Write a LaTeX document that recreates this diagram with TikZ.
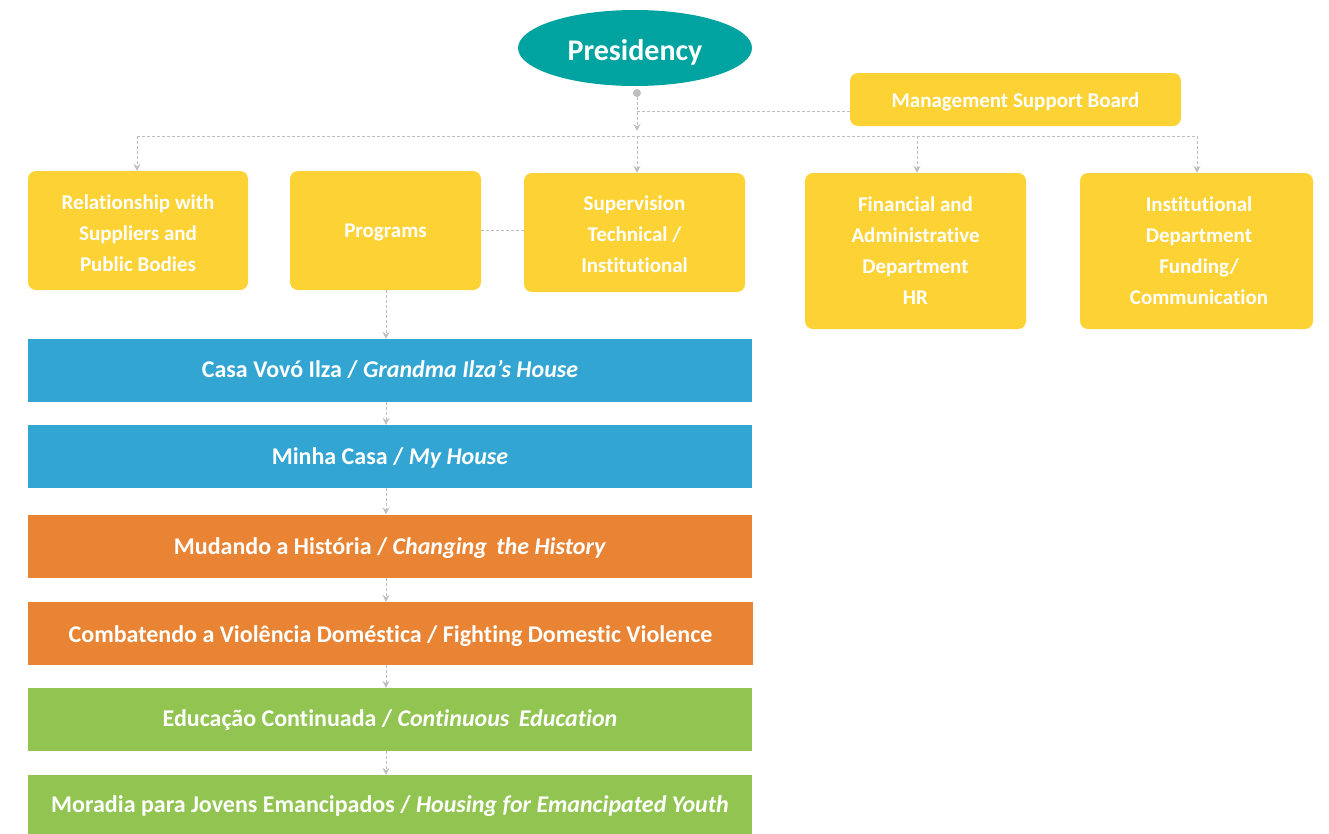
\documentclass[tikz,border=0pt]{standalone}
\usepackage{fontspec}
\setmainfont{Carlito}[Ligatures=NoCommon]
\usetikzlibrary{arrows.meta,shapes.geometric}
\definecolor{tealc}{RGB}{0,163,160}
\definecolor{yel}{RGB}{253,210,53}
\definecolor{blu}{RGB}{51,165,210}
\definecolor{org}{RGB}{233,132,52}
\definecolor{grn}{RGB}{146,196,82}
\definecolor{con}{RGB}{190,190,190}
\newcommand\strutto[1]{\rule{0pt}{#1}}
\newcommand\lowr[2]{\raisebox{#1}[\height][\depth]{#2}}
\begin{document}
\begin{tikzpicture}[x=1pt,y=-1pt,
  ybox/.style={fill=yel, rounded corners=8pt, text=white, align=center, inner sep=0pt,
    font=\fontsize{21}{31}\selectfont\bfseries},
  pbox/.style={minimum width=724pt, minimum height=63pt, inner sep=0pt, text=white,
    font=\fontsize{24}{28}\selectfont\bfseries},
  conn/.style={draw=con, dash pattern=on 3pt off 2pt, line width=0.9pt},
  arr/.style={conn, -{Stealth[length=7pt,width=7pt,inset=2.5pt]}}
]
\useasboundingbox (0,0) rectangle (1329,833);

% Presidency
\node[ellipse, fill=tealc, minimum width=234pt, minimum height=76pt, inner sep=0pt,
  text=white, font=\fontsize{30}{34}\selectfont\bfseries] (pres) at (635,48) {\strutto{30pt}Presidency};
\node[circle, fill=con, minimum size=8pt, inner sep=0pt] (dot) at (637,93) {};

% Management support board
\node[ybox, minimum width=331pt, minimum height=53pt, font=\fontsize{21}{25}\selectfont\bfseries]
  (msb) at (1015.5,99.5) {\strutto{20pt}Management Support Board};

% Departments
\node[ybox, minimum width=220pt, minimum height=119pt] (rel) at (138,230.5)
  {\strutto{19.5pt}Relationship with\\Suppliers and\\Public Bodies};
\node[ybox, minimum width=191pt, minimum height=119pt] (prog) at (385.5,230.5) {\strutto{17.5pt}Programs};
\node[ybox, minimum width=221pt, minimum height=119pt] (sup) at (634.5,232.5)
  {\strutto{17.5pt}Supervision\\Technical /\\Institutional};
\node[ybox, minimum width=221pt, minimum height=156pt] (fin) at (915.5,251)
  {Financial and\\Administrative\\Department\\HR};
\node[ybox, minimum width=233pt, minimum height=156pt] (inst) at (1196.5,251)
  {\hspace*{5pt}Institutional\\\hspace*{5pt}Department\\\hspace*{5pt}Funding/\\\hspace*{5pt}Communication};

% Program boxes
\node[pbox, fill=blu] (p1) at (390,370.5) {\lowr{1pt}{Casa Vovó Ilza / \textit{Grandma Ilza’s House}}};
\node[pbox, fill=blu] (p2) at (390,456.5) {\lowr{-1pt}{Minha Casa / \textit{My House}}};
\node[pbox, fill=org] (p3) at (390,546) {\lowr{-2pt}{Mudando a História / \textit{Changing\, the History}}};
\node[pbox, fill=org, minimum width=725pt] (p4) at (390.5,633.5) {\lowr{-3pt}{Combatendo a Violência Doméstica / Fighting Domestic Violence}};
\node[pbox, fill=grn] (p5) at (390,719.5) {\lowr{-1pt}{Educação Continuada / \textit{Continuous\, Education}}};
\node[pbox, fill=grn] (p6) at (390,806.5) {Moradia para Jovens Emancipados / \textit{Housing for Emancipated Youth}};

% connector coordinates
\coordinate (tr) at (637,131);
\coordinate (mj) at (637,111);
\coordinate (msbin) at (850,111);
\coordinate (h1) at (137,136);
\coordinate (h2) at (637,136);
\coordinate (h3) at (917,136);
\coordinate (h4) at (1197,136);

\draw[arr] (dot) -- (tr);
\draw[conn] (mj) -- (msbin);
\draw[conn] (h1) -- (h4);
\draw[arr] (h1) -- (rel.north -| h1);
\draw[arr] (h2) -- (sup.north -| h2);
\draw[arr] (h3) -- (fin.north -| h3);
\draw[arr] (h4) -- (inst.north -| h4);
\draw[conn] (prog.east) -- (sup.west |- prog.east);

\draw[arr] (prog.south -| 386,0) -- (p1.north -| 386,0);
\draw[arr] (p1.south -| 386,0) -- (p2.north -| 386,0);
\draw[arr] (p2.south -| 386,0) -- (p3.north -| 386,0);
\draw[arr] (p3.south -| 386,0) -- (p4.north -| 386,0);
\draw[arr] (p4.south -| 386,0) -- (p5.north -| 386,0);
\draw[arr] (p5.south -| 386,0) -- (p6.north -| 386,0);
\end{tikzpicture}
\end{document}
